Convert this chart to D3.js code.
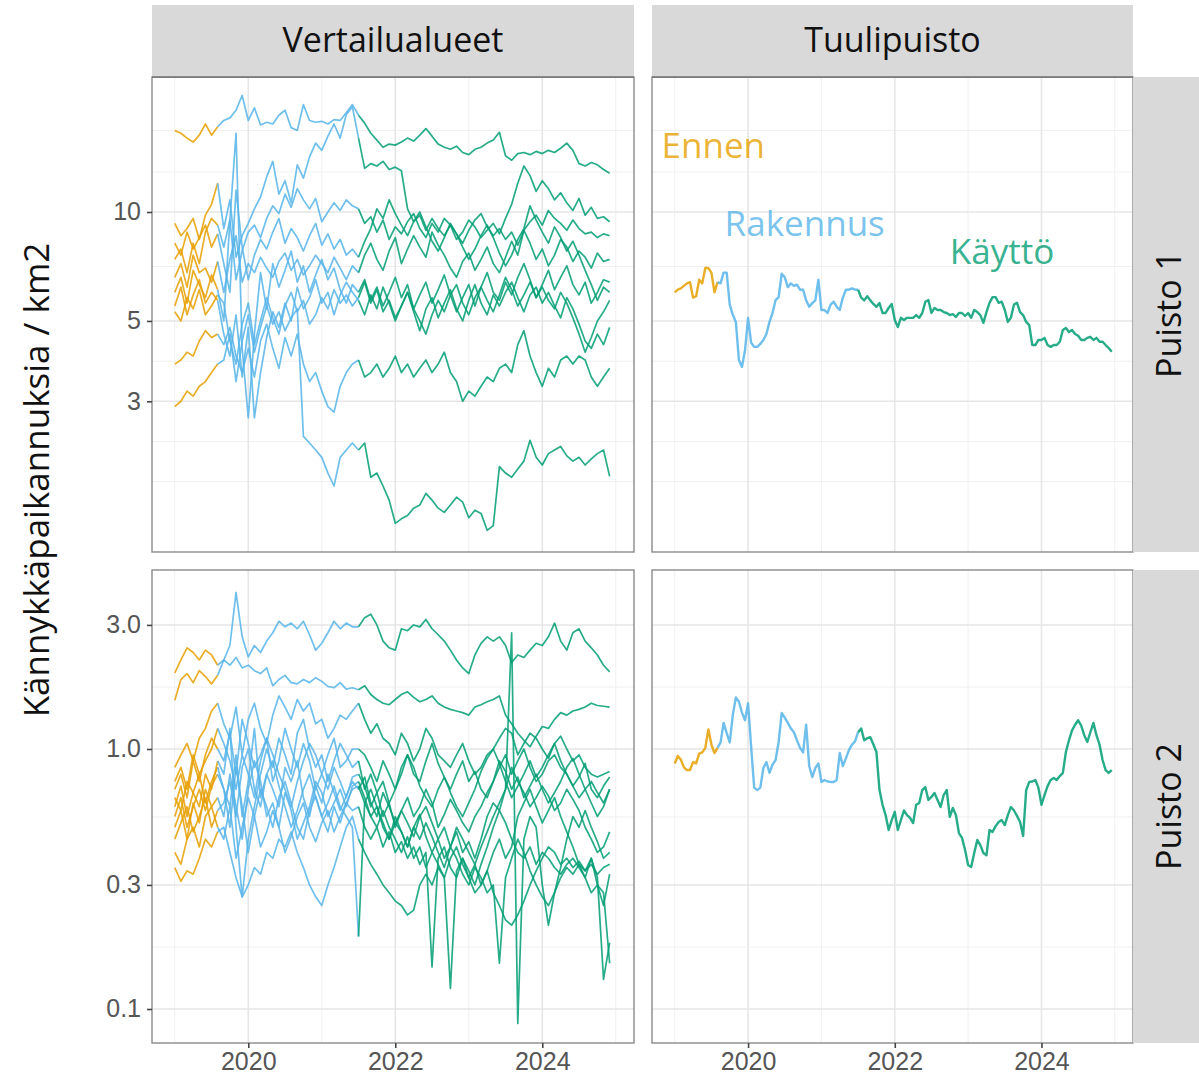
<!DOCTYPE html>
<html lang="fi">
<head>
  <meta charset="UTF-8">
  <script src="https://d3js.org/d3.v7.min.js"></script>
  <title>Kännykkäpaikannukset</title>
  <style>
    body { margin: 0; background: #fff; }
    .big { font-family: "Open Sans", "Noto Sans", sans-serif; }
    .tick text { font-family: "Liberation Sans", Arial, sans-serif; }
  </style>
</head>
<body>
<script>
// ---------- data ----------
const columns = ["Vertailualueet", "Tuulipuisto"];
const rows = ["Puisto 1", "Puisto 2"];
const phases = ["Ennen", "Rakennus", "Käyttö"];
const phaseColors = ["#E69F00", "#56B4E9", "#009E73"];
const phaseStarts = [2019.57, 2021.49];   // decimal year where Rakennus / Käyttö begin

const yearTicks = [2020, 2022, 2024];
const yearMinor = [2019, 2021, 2023, 2025];
const p1Ticks = [3, 5, 10];
const p1Grid = [1.8, 2.32, 3.87, 7.07, 12.9, 16.8];
const p2Ticks = [0.1, 0.3, 1.0, 3.0];
const p2Grid = [0.173, 0.548, 1.73];

// phase label positions in the Tuulipuisto / Puisto 1 panel
const labelDates = [2018.82, 2019.68, 2022.75];
const labelValues = [14.1, 8.58, 7.18];

// monthly values from Jan 2019 (72 months), comparison areas, Puisto 1
const vertP1 = [
  [16.8,16.5,16.0,15.6,16.3,17.5,16.3,17.2, 17.9,18.2,19.1,21.0,17.9,19.4,17.4,17.7,17.5,18.5,19.1,17.1,16.8,19.8,17.9,17.7,17.8,17.5,18.0,17.9,18.8,19.8, 18.5,17.6,16.5,15.8,15.1,15.4,15.3,15.6,16.0,15.7,16.3,17.0,16.2,15.4,15.1,14.9,15.2,14.6,14.4,14.9,15.1,15.5,15.8,16.6,14.3,13.9,14.5,14.6,14.4,14.7,14.5,14.8,14.6,15.0,15.5,14.8,13.6,13.4,13.7,13.5,13.1,12.8],
  [9.3,8.6,9.0,9.6,8.4,9.8,10.5,12.0, 9.0,10.8,7.5,8.6,9.3,10.2,11.0,12.5,13.8,11.2,12.2,10.6,13.5,12.4,14.2,15.5,14.8,16.2,17.5,16.0,18.6,19.5, 16.0,13.2,13.6,13.4,13.8,13.1,13.3,13.0,10.2,9.4,9.8,8.9,9.6,9.0,8.6,9.2,8.4,8.8,9.5,9.1,8.5,8.9,9.3,8.7,9.6,10.5,12.0,13.4,12.6,11.4,12.2,11.6,10.8,11.3,10.6,10.1,10.9,9.8,10.3,9.6,9.7,9.4],
  [7.4,7.9,6.8,8.2,7.2,8.8,9.6,9.2, 8.0,9.5,6.5,7.8,8.8,9.2,8.5,9.6,10.4,9.9,11.2,10.3,11.6,10.8,10.2,10.9,9.4,10.0,10.6,10.1,10.8,10.4, 10.2,9.3,9.7,8.8,9.5,8.4,9.1,8.7,9.4,9.9,9.0,8.5,9.3,8.8,9.6,9.2,8.7,8.2,8.9,9.5,9.9,9.1,8.6,9.0,8.4,8.8,8.1,8.9,9.4,9.8,9.2,10.1,9.6,9.3,8.9,9.5,9.0,8.7,8.8,8.5,8.7,8.6],
  [6.6,7.2,6.2,7.6,6.8,7.0,6.4,7.3, 6.0,7.4,8.6,6.4,7.2,6.8,7.5,7.0,6.6,7.3,7.7,6.9,7.4,6.7,7.1,7.6,7.2,6.8,7.5,7.0,6.5,7.1, 6.8,7.6,8.2,7.4,6.9,7.8,8.5,7.2,7.9,8.6,8.0,7.5,8.8,8.1,7.6,7.0,6.6,7.3,7.7,6.9,7.4,8.0,7.2,6.8,7.5,8.3,7.6,8.9,8.2,7.4,7.9,7.1,7.6,8.4,8.0,7.3,7.8,7.5,7.0,7.7,7.3,7.4],
  [6.0,6.6,5.6,6.9,6.3,5.8,6.7,6.1, 5.0,9.5,16.5,4.2,2.7,4.6,6.8,5.4,7.2,6.2,6.9,7.8,6.4,7.1,6.0,6.7,7.4,6.5,7.0,6.1,5.6,6.3, 6.0,6.5,5.7,6.2,5.5,6.0,6.6,5.8,6.3,5.4,5.9,6.4,5.6,6.1,6.7,5.9,5.3,5.8,6.3,5.5,6.2,6.8,6.0,5.7,6.4,5.9,6.6,7.2,6.5,5.8,6.3,6.9,6.1,6.6,7.1,6.3,5.9,6.4,5.6,6.0,6.5,6.4],
  [5.5,6.2,5.2,5.9,6.5,5.6,6.0,5.7, 4.6,4.0,5.2,3.5,4.8,2.7,3.6,4.5,5.3,4.8,5.6,5.0,6.2,5.4,5.8,6.5,5.6,6.0,5.2,5.9,6.4,6.0, 5.7,5.2,5.9,5.4,6.2,5.6,5.0,5.5,6.0,5.3,4.7,5.4,5.8,5.1,5.6,6.1,5.4,5.0,5.7,6.3,5.6,5.2,5.9,5.5,6.0,6.4,5.8,5.3,5.9,6.2,5.6,6.0,5.5,5.1,5.8,5.4,4.9,4.4,4.2,4.6,4.3,4.8],
  [8.2,7.6,8.8,7.9,8.5,9.2,8.0,8.7, 7.2,6.0,11.5,8.0,6.5,7.6,8.4,7.9,8.8,9.6,8.2,9.0,8.5,7.8,8.6,9.3,8.1,8.7,7.9,8.4,7.6,7.9, 7.5,8.3,9.0,10.2,9.6,10.8,9.9,9.2,8.6,9.4,10.0,9.1,8.3,7.8,8.5,9.3,8.7,8.0,7.4,7.9,8.6,9.2,8.5,7.7,7.1,7.6,8.4,9.0,10.4,9.5,8.8,8.2,9.1,8.5,7.8,8.3,7.6,6.9,6.3,5.7,6.2,6.0],
  [5.3,5.0,5.8,5.4,6.1,5.2,5.5,5.9, 5.6,4.4,3.8,4.9,5.6,4.3,5.0,5.8,5.1,4.6,5.5,6.0,5.3,5.7,4.9,5.2,5.8,5.4,6.1,5.6,5.9,5.5, 5.8,6.4,5.6,6.1,5.3,5.7,5.1,5.5,6.0,5.4,5.0,4.6,5.2,5.7,5.3,5.9,6.3,5.6,5.2,5.8,6.2,5.7,5.3,5.9,6.6,6.1,5.5,5.9,6.4,5.8,6.2,5.7,5.4,6.0,5.6,5.1,4.6,4.1,4.5,5.0,5.3,5.7],
  [3.8,3.9,4.1,4.0,4.4,4.7,4.5,4.6, 4.3,4.8,4.0,3.6,4.2,3.5,4.4,4.9,4.2,3.7,4.5,4.0,4.6,3.8,3.4,3.6,3.2,2.9,2.8,3.3,3.6,3.8, 3.9,3.5,3.6,3.8,3.5,3.7,4.0,3.6,3.8,3.5,3.7,3.9,3.6,3.8,4.1,3.6,3.4,3.0,3.2,3.1,3.3,3.5,3.4,3.7,3.8,3.6,4.3,4.7,4.0,3.6,3.3,3.7,3.5,3.9,4.0,3.8,4.0,3.9,3.5,3.3,3.5,3.7],
  [2.9,3.0,3.2,3.1,3.3,3.4,3.6,3.8, 3.9,4.6,3.4,4.4,5.2,4.1,4.8,5.5,4.9,5.3,4.7,5.1,5.4,2.4,2.3,2.2,2.1,1.9,1.75,2.1,2.2,2.3, 2.2,2.3,1.85,1.9,1.75,1.6,1.38,1.42,1.45,1.52,1.55,1.67,1.6,1.52,1.48,1.55,1.63,1.58,1.43,1.5,1.47,1.32,1.36,1.98,1.9,1.85,1.95,2.05,2.34,2.1,2.0,2.15,2.2,2.25,2.12,2.05,2.1,2.0,2.08,2.15,2.2,1.86]
];

// monthly values from Jan 2019 (72 months), comparison areas, Puisto 2
const vertP2 = [
  [1.96,2.2,2.45,2.35,2.2,2.4,2.3,2.1, 2.2,2.5,4.0,2.7,2.26,2.5,2.35,2.6,2.8,3.1,2.95,3.05,2.9,3.1,2.75,2.4,2.55,2.8,3.1,2.9,3.05,2.95, 2.95,3.2,3.3,3.0,2.6,2.45,2.4,2.9,2.85,3.0,2.95,3.15,2.9,2.75,2.6,2.4,2.2,2.05,1.95,2.3,2.55,2.7,2.6,2.7,2.5,2.15,2.3,2.25,2.4,2.55,2.5,2.7,3.05,2.6,2.4,2.8,2.9,2.6,2.45,2.3,2.1,1.98],
  [1.54,1.85,1.95,1.8,2.0,1.9,1.78,1.92, 2.2,2.1,2.25,2.05,2.1,2.0,1.95,2.05,1.75,1.85,1.92,1.8,1.78,1.85,1.8,1.88,1.82,1.74,1.72,1.8,1.7,1.72, 1.69,1.75,1.62,1.55,1.5,1.48,1.55,1.62,1.66,1.58,1.52,1.55,1.6,1.5,1.45,1.42,1.4,1.38,1.35,1.45,1.48,1.52,1.55,1.6,1.35,1.25,1.15,1.08,1.02,1.12,1.22,1.2,1.3,1.38,1.35,1.4,1.42,1.45,1.5,1.47,1.46,1.45],
  [0.85,0.95,1.05,0.9,1.1,1.2,1.4,1.5, 1.25,1.1,1.45,0.95,1.3,1.5,1.2,1.05,1.35,1.6,1.45,1.3,1.55,1.4,1.5,1.25,1.3,1.1,1.2,1.35,1.3,1.4, 1.5,1.3,1.15,1.25,1.1,1.05,0.95,1.15,1.05,0.9,1.0,1.2,1.1,0.95,0.9,0.85,0.95,1.05,0.9,0.8,0.85,0.95,1.0,1.1,1.2,1.15,0.95,1.05,1.15,1.1,1.0,0.92,1.05,1.12,1.0,0.9,0.95,0.85,0.8,0.78,0.8,0.82],
  [0.7,0.8,0.65,0.9,0.75,0.95,1.1,1.0, 0.9,1.15,0.8,1.3,1.05,0.85,0.95,1.1,0.75,0.9,1.2,1.0,0.85,1.05,0.9,0.7,0.8,0.95,1.1,0.85,0.9,1.0, 1.0,0.95,0.85,0.75,0.9,0.8,0.7,0.85,0.95,0.8,0.75,0.9,1.05,0.88,0.78,0.7,0.8,0.9,0.75,0.82,0.7,0.65,0.75,0.85,0.95,0.8,0.9,1.0,0.85,0.75,0.8,0.9,0.95,0.85,0.8,0.72,0.78,0.88,0.7,0.65,0.72,0.78],
  [0.6,0.72,0.55,0.68,0.8,0.62,0.75,0.85, 0.7,0.6,0.95,0.55,0.75,1.2,0.65,0.8,0.7,0.6,0.85,0.75,0.9,0.65,0.55,0.72,0.62,0.8,0.68,0.58,0.66,0.75, 0.7,0.78,0.62,0.55,0.68,0.6,0.52,0.58,0.65,0.55,0.6,0.7,0.62,0.5,0.56,0.64,0.58,0.52,0.48,0.55,0.6,0.68,0.75,0.9,0.82,0.7,0.78,0.65,0.72,0.8,0.7,0.62,0.68,0.75,0.85,0.92,0.8,0.7,0.62,0.55,0.6,0.7],
  [0.5,0.58,0.45,0.62,0.52,0.7,0.6,0.65, 0.55,0.8,0.6,0.45,0.7,0.9,0.75,0.55,0.62,0.5,0.68,0.58,0.45,0.52,0.6,0.75,0.68,0.55,0.62,0.7,0.6,0.72, 0.75,0.65,0.55,0.6,0.5,0.45,0.52,0.48,0.42,0.5,0.56,0.46,0.4,0.45,0.38,0.42,0.5,0.45,0.4,0.36,0.42,0.48,0.55,0.62,0.7,0.85,0.75,0.68,0.6,0.65,0.72,0.66,0.58,0.62,0.7,0.64,0.58,0.5,0.45,0.4,0.42,0.48],
  [0.4,0.36,0.45,0.5,0.42,0.55,0.6,0.5, 0.45,0.6,0.38,0.5,0.65,0.55,0.42,0.48,0.58,0.5,0.4,0.46,0.55,0.62,0.5,0.44,0.52,0.58,0.48,0.55,0.62,0.58, 0.6,0.5,0.45,0.5,0.42,0.48,0.4,0.44,0.38,0.42,0.36,0.4,0.145,0.38,0.42,0.35,0.32,0.38,0.34,0.3,0.36,0.42,0.5,0.58,0.52,0.45,0.4,0.38,0.42,0.36,0.4,0.38,0.35,0.33,0.36,0.38,0.35,0.32,0.28,0.3,0.25,0.33],
  [0.35,0.31,0.34,0.33,0.38,0.45,0.42,0.48, 0.5,0.4,0.32,0.27,0.3,0.35,0.33,0.4,0.38,0.45,0.42,0.48,0.4,0.35,0.3,0.27,0.25,0.3,0.35,0.42,0.5,0.55, 0.45,0.4,0.36,0.33,0.3,0.28,0.26,0.25,0.23,0.24,0.3,0.33,0.3,0.35,0.32,0.38,0.42,0.36,0.32,0.28,0.3,0.34,0.28,0.25,0.22,0.21,0.23,0.26,0.3,0.34,0.38,0.42,0.4,0.36,0.38,0.35,0.37,0.34,0.36,0.33,0.35,0.36],
  [0.75,0.85,0.7,0.95,0.8,0.9,1.0,1.2, 1.05,0.9,0.7,0.95,0.8,0.65,0.9,1.1,0.95,0.8,0.7,0.6,0.75,0.9,1.05,0.95,0.8,0.7,0.85,0.75,0.65,0.78, 0.8,0.72,0.6,0.68,0.55,0.62,0.5,0.58,0.52,0.46,0.55,0.6,0.52,0.45,0.5,0.42,0.48,0.4,0.44,0.38,0.45,0.55,0.62,0.58,0.7,2.8,0.088,0.45,0.55,0.5,0.3,0.21,0.28,0.35,0.45,0.55,0.5,0.58,0.5,0.44,0.38,0.4],
  [0.55,0.65,0.5,0.6,0.7,0.58,0.72,0.8, 0.7,0.5,0.85,0.6,0.4,0.55,0.7,0.6,0.5,0.65,0.75,0.62,0.5,0.45,0.58,0.66,0.55,0.48,0.6,0.52,0.62,0.7, 0.72,0.62,0.55,0.5,0.58,0.5,0.45,0.4,0.46,0.38,0.42,0.35,0.4,0.36,0.32,0.12,0.34,0.38,0.32,0.36,0.3,0.34,0.4,0.45,0.38,0.42,0.55,0.62,0.7,0.6,0.52,0.58,0.65,0.55,0.48,0.42,0.36,0.32,0.38,0.3,0.28,0.15],
  [0.45,0.52,0.6,0.48,0.55,0.65,0.5,0.58, 0.62,0.75,0.55,0.85,1.0,0.7,0.6,0.8,0.9,0.72,0.6,0.5,0.58,0.7,0.8,0.65,0.55,0.62,0.72,0.6,0.55,0.5, 0.19,0.62,0.7,0.6,0.52,0.45,0.55,0.48,0.42,0.5,0.45,0.52,0.46,0.4,0.35,0.42,0.38,0.33,0.3,0.35,0.32,0.28,0.3,0.15,0.32,0.38,0.45,0.4,0.34,0.3,0.27,0.25,0.28,0.32,0.35,0.33,0.36,0.34,0.38,0.32,0.13,0.18],
  [0.65,0.58,0.75,0.68,0.6,0.8,0.7,0.9, 0.8,1.2,0.5,0.27,0.45,0.6,0.8,1.0,0.85,1.1,0.95,0.8,1.15,1.3,1.0,0.85,0.95,0.75,0.9,1.05,0.95,0.85, 0.9,0.7,0.8,0.68,0.75,0.62,0.7,0.8,0.95,0.85,0.72,0.65,0.6,0.7,0.78,0.68,0.6,0.55,0.62,0.7,0.82,0.92,1.0,0.88,0.75,0.65,0.72,0.8,0.9,0.78,0.85,0.95,1.05,0.9,0.8,0.72,0.65,0.7,0.75,0.68,0.62,0.7]
];

// half-monthly values from Jan 2019 (144 points), wind farm
const tuuliP1 = [
  6.0,6.1,6.15,6.25,6.35,6.4,5.8,5.85,6.5,6.35, 7.0,7.0,6.8,6.0,6.4,6.35,6.8,6.8,5.55,5.2,
  4.97,3.9,3.73,4.15,5.1,4.35,4.24,4.24,4.32,4.43, 4.6,4.97,5.26,5.71,5.82,6.75,6.6,6.2,6.35,6.25,
  6.3,6.1,6.1,5.7,5.47,5.6,5.7,6.5,5.36,5.36, 5.26,5.55,5.65,5.47,5.36,5.8,6.1,6.1,6.15,6.1,
  6.1,5.8,5.7,5.85,5.7,5.57,5.47,5.6,5.26,5.26, 5.43,5.57,5.03,4.81,5.1,5.03,5.1,5.1,5.1,5.19,
  5.1,5.26,5.65,5.71,5.26,5.43,5.36,5.36,5.29,5.26, 5.19,5.22,5.13,5.26,5.26,5.16,5.26,5.1,5.36,5.29,
  5.19,4.94,5.29,5.61,5.82,5.82,5.61,5.65,5.36,4.97, 5.1,5.55,5.61,5.29,5.19,4.97,4.87,4.29,4.29,4.43,
  4.43,4.49,4.29,4.24,4.29,4.29,4.38,4.72,4.78,4.66, 4.72,4.6,4.55,4.43,4.43,4.49,4.52,4.43,4.49,4.38,
  4.38,4.29,4.21,4.11
];
const tuuliP2 = [
  0.88,0.94,0.91,0.85,0.83,0.83,0.89,0.88,0.96,0.97, 1.01,1.19,1.04,0.965,1.01,1.06,1.26,1.15,1.06,1.35,
  1.58,1.52,1.38,1.29,1.5,1.02,0.71,0.695,0.71,0.845, 0.89,0.81,0.87,0.907,1.064,1.375,1.32,1.26,1.2,1.16,
  1.08,1.01,0.97,1.24,0.86,0.78,0.845,0.88,0.747,0.76, 0.75,0.747,0.747,0.76,0.965,0.86,0.92,0.99,1.04,1.07,
  1.16,1.2,1.08,1.1,1.11,1.04,0.974,0.695,0.61,0.557, 0.488,0.533,0.573,0.488,0.533,0.58,0.557,0.543,0.519,0.61,
  0.62,0.695,0.714,0.637,0.654,0.677,0.637,0.598,0.665,0.695, 0.548,0.593,0.557,0.475,0.455,0.409,0.358,0.352,0.398,0.447,
  0.427,0.398,0.39,0.488,0.48,0.505,0.524,0.533,0.51,0.557, 0.598,0.58,0.553,0.524,0.463,0.695,0.747,0.75,0.76,0.71,
  0.61,0.665,0.72,0.76,0.774,0.76,0.787,0.809,0.974,1.08, 1.18,1.24,1.29,1.23,1.13,1.064,1.16,1.26,1.13,1.04,
  0.907,0.83,0.809,0.83
];

// ---------- layout ----------
const W = 1199, H = 1078;
const colX = [[152, 634], [652, 1133]];
const rowY = [[77, 552], [570, 1043]];
const xDomain = [2018.69, 2025.248];
const yDomains = [[1.15, 23.6], [0.074, 4.88]];

const monthly = d3.range(72).map(i => 2019 + i / 12);
const halfMonthly = d3.range(144).map(i => 2019 + i / 24);

const panels = [
  { col: 0, row: 0, series: vertP1, dates: monthly, width: 1.7 },
  { col: 1, row: 0, series: [tuuliP1], dates: halfMonthly, width: 2.4 },
  { col: 0, row: 1, series: vertP2, dates: monthly, width: 1.7 },
  { col: 1, row: 1, series: [tuuliP2], dates: halfMonthly, width: 2.4 }
];

const phaseOf = t => t < phaseStarts[0] ? 0 : (t < phaseStarts[1] ? 1 : 2);

// split a series into three coloured pieces that join at the phase change
function splitPhases(dates, vals) {
  const segs = [[], [], []];
  dates.forEach((t, i) => {
    const p = phaseOf(t);
    if (i > 0 && phaseOf(dates[i - 1]) !== p) segs[phaseOf(dates[i - 1])].push([t, vals[i]]);
    segs[p].push([t, vals[i]]);
  });
  return segs;
}

const svg = d3.select("body").append("svg")
    .attr("width", W)
    .attr("height", H);

const xScales = colX.map(r => d3.scaleLinear().domain(xDomain).range(r));
const yScales = rowY.map((r, i) => d3.scaleLog().domain(yDomains[i]).range([r[1], r[0]]));
const yTicks = [p1Ticks, p2Ticks];
const yGrid = [p1Grid, p2Grid];
const yFormat = [d3.format("d"), d3.format(".1f")];

panels.forEach(pn => {
  const x = xScales[pn.col], y = yScales[pn.row];
  const [x0, x1] = colX[pn.col], [y0, y1] = rowY[pn.row];
  const g = svg.append("g");

  g.append("rect").attr("x", x0).attr("y", y0)
      .attr("width", x1 - x0).attr("height", y1 - y0).attr("fill", "#fff");

  // grid
  g.selectAll(".hmin").data(yGrid[pn.row]).join("line")
      .attr("x1", x0).attr("x2", x1)
      .attr("y1", d => y(d)).attr("y2", d => y(d))
      .attr("stroke", "#f0f0f0").attr("stroke-width", 1);
  g.selectAll(".vmin").data(yearMinor).join("line")
      .attr("x1", d => x(d)).attr("x2", d => x(d))
      .attr("y1", y0).attr("y2", y1)
      .attr("stroke", "#f0f0f0").attr("stroke-width", 1);
  g.selectAll(".hmaj").data(yTicks[pn.row]).join("line")
      .attr("x1", x0).attr("x2", x1)
      .attr("y1", d => y(d)).attr("y2", d => y(d))
      .attr("stroke", "#e6e6e6").attr("stroke-width", 1.6);
  g.selectAll(".vmaj").data(yearTicks).join("line")
      .attr("x1", d => x(d)).attr("x2", d => x(d))
      .attr("y1", y0).attr("y2", y1)
      .attr("stroke", "#e6e6e6").attr("stroke-width", 1.6);

  // lines, phase by phase so Käyttö ends up on top
  const line = d3.line().x(d => x(d[0])).y(d => y(d[1]));
  const pieces = pn.series.map(s => splitPhases(pn.dates, s));
  [0, 1, 2].forEach(p => {
    g.selectAll(".ph" + p).data(pieces.map(pc => pc[p])).join("path")
        .attr("d", line)
        .attr("fill", "none")
        .attr("stroke", phaseColors[p])
        .attr("stroke-opacity", 0.85)
        .attr("stroke-width", pn.width)
        .attr("stroke-linejoin", "round");
  });

  g.append("rect").attr("x", x0).attr("y", y0)
      .attr("width", x1 - x0).attr("height", y1 - y0)
      .attr("fill", "none").attr("stroke", "#8a8a8a").attr("stroke-width", 1.4);

  // axes on outer panels only
  if (pn.col === 0) {
    const ax = g.append("g").attr("transform", `translate(${x0},0)`)
        .call(d3.axisLeft(y).tickValues(yTicks[pn.row]).tickFormat(yFormat[pn.row]).tickSize(5).tickPadding(6));
    ax.select(".domain").remove();
    ax.selectAll(".tick line").attr("stroke", "#444").attr("stroke-width", 1.6);
    ax.selectAll(".tick text").attr("fill", "#555").style("font-size", "25px");
  }
  if (pn.row === 1) {
    const ax = g.append("g").attr("transform", `translate(0,${y1})`)
        .call(d3.axisBottom(x).tickValues(yearTicks).tickFormat(d3.format("d")).tickSize(5).tickPadding(4));
    ax.select(".domain").remove();
    ax.selectAll(".tick line").attr("stroke", "#444").attr("stroke-width", 1.6);
    ax.selectAll(".tick text").attr("fill", "#555").style("font-size", "25px");
  }
});

// phase labels in the wind farm / Puisto 1 panel
svg.append("g").selectAll("text").data(phases).join("text")
    .attr("class", "big")
    .attr("x", (d, i) => xScales[1](labelDates[i]))
    .attr("y", (d, i) => yScales[0](labelValues[i]))
    .attr("fill", (d, i) => phaseColors[i])
    .attr("fill-opacity", 0.8)
    .style("font-size", "35px")
    .text(d => d);

// strips
columns.forEach((c, i) => {
  svg.append("rect").attr("x", colX[i][0]).attr("y", 5)
      .attr("width", colX[i][1] - colX[i][0]).attr("height", 72).attr("fill", "#d9d9d9");
  svg.append("line").attr("x1", colX[i][0]).attr("x2", colX[i][1])
      .attr("y1", 77).attr("y2", 77).attr("stroke", "#6e6e6e").attr("stroke-width", 1.6);
  svg.append("text").attr("class", "big")
      .attr("x", (colX[i][0] + colX[i][1]) / 2).attr("y", 39)
      .attr("text-anchor", "middle").attr("dominant-baseline", "central")
      .attr("fill", "#111").style("font-size", "34px").text(c);
});
rows.forEach((r, i) => {
  svg.append("rect").attr("x", 1133).attr("y", rowY[i][0])
      .attr("width", 70).attr("height", rowY[i][1] - rowY[i][0]).attr("fill", "#d9d9d9");
  const cy = (rowY[i][0] + rowY[i][1]) / 2;
  svg.append("text").attr("class", "big")
      .attr("transform", `translate(1168,${cy}) rotate(-90)`)
      .attr("text-anchor", "middle").attr("dominant-baseline", "central")
      .attr("fill", "#111").style("font-size", "34px").text(r);
});

// y title
svg.append("text").attr("class", "big")
    .attr("transform", `translate(35,480) rotate(-90)`)
    .attr("text-anchor", "middle").attr("dominant-baseline", "central")
    .attr("fill", "#111").style("font-size", "35px")
    .text("Kännykkäpaikannuksia / km2");
</script>
</body>
</html>
